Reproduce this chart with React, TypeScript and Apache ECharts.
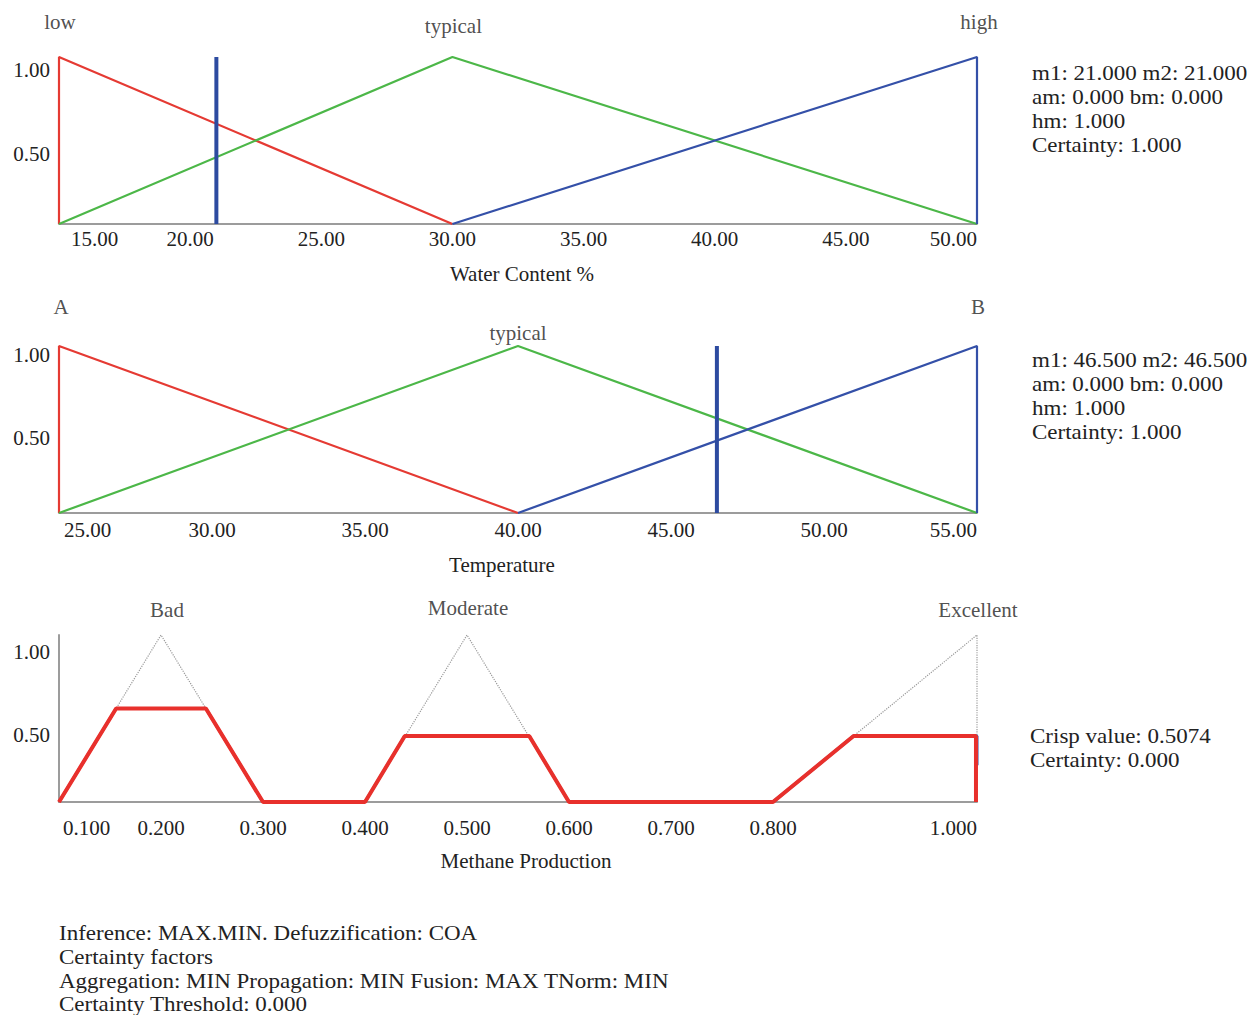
import React, { useEffect, useRef } from "react";
import * as echarts from "echarts";

// ---------- DATA ----------
const yTickValues = [0.5, 1.0];

// Water content chart
const waterMin = 15;
const waterMax = 50;
const waterStep = 5;
const waterLow = [[15, 0], [15, 1], [30, 0]];
const waterTypical = [[15, 0], [30, 1], [50, 0]];
const waterHigh = [[30, 0], [50, 1], [50, 0]];
const waterInput = [[21, 0], [21, 1]];
const waterSetNames = ["low", "typical", "high"];
const waterSetPeaks = [[15, 1], [30, 1], [50, 1]];
const waterInfo = ["m1: 21.000 m2: 21.000", "am: 0.000 bm: 0.000", "hm: 1.000", "Certainty: 1.000"];

// Temperature chart
const tempMin = 25;
const tempMax = 55;
const tempStep = 5;
const tempA = [[25, 0], [25, 1], [40, 0]];
const tempTypical = [[25, 0], [40, 1], [55, 0]];
const tempB = [[40, 0], [55, 1], [55, 0]];
const tempInput = [[46.5, 0], [46.5, 1]];
const tempSetNames = ["A", "typical", "B"];
const tempSetPeaks = [[25, 1], [40, 1], [55, 1]];
const tempInfo = ["m1: 46.500 m2: 46.500", "am: 0.000 bm: 0.000", "hm: 1.000", "Certainty: 1.000"];

// Methane production chart
const methaneMin = 0.1;
const methaneMax = 1.0;
const methaneTicks = [0.1, 0.2, 0.3, 0.4, 0.5, 0.6, 0.7, 0.8, 1.0];
const methaneBad = [[0.1, 0], [0.2, 1], [0.3, 0]];
const methaneModerate = [[0.4, 0], [0.5, 1], [0.6, 0]];
const methaneExcellent = [[0.8, 0], [1.0, 1], [1.0, 0]];
const badClipped = [[0.1, 0], [0.156, 0.56], [0.244, 0.56], [0.3, 0]];
const moderateClipped = [[0.4, 0], [0.439, 0.395], [0.561, 0.395], [0.6, 0]];
const excellentClipped = [[0.8, 0], [0.879, 0.395], [1.0, 0.395], [1.0, 0.22]];
const aggregated = [
  [0.1, 0], [0.156, 0.56], [0.244, 0.56], [0.3, 0], [0.4, 0],
  [0.439, 0.395], [0.561, 0.395], [0.6, 0], [0.8, 0],
  [0.879, 0.395], [0.999, 0.395], [0.999, 0],
];
const methaneSetNames = ["Bad", "Moderate", "Excellent"];
const methaneSetPeaks = [[0.2, 1], [0.5, 1], [1.0, 1]];
const methaneInfo = ["Crisp value: 0.5074", "Certainty: 0.000"];

const footerLines = [
  "Inference: MAX.MIN. Defuzzification: COA",
  "Certainty factors",
  "Aggregation: MIN Propagation: MIN Fusion: MAX TNorm: MIN",
  "Certainty Threshold: 0.000",
];

// ---------- STYLE ----------
const FONT = '"Liberation Serif", "DejaVu Serif", serif';
const TEXT = "#222222";
const RED = "#e53a33";
const GREEN = "#4cb748";
const BLUE = "#3450a8";
const MARK = "#2d4ba0";
const AXIS = "#9c9c9c";
const FS = 21;
const INFO_FS = 20;
const SCALE_X = 1.15;
const SET_WIDTH = 2.2;

const waterLabelDist = [25, 21, 25];
const waterLabelOffX = [1, 1, 2];
const tempLabelDist = [29, 3, 29];
const tempLabelOffX = [2, 0, 1];
const methaneLabelDist = [15, 17, 15];
const methaneLabelOffX = [6, 1, 1];

function makeLine(data: number[][], color: string, width: number, idx: number, dotted = false, z = 2) {
  return {
    type: "line",
    xAxisIndex: idx,
    yAxisIndex: idx,
    data,
    showSymbol: false,
    symbol: "none",
    clip: false,
    z,
    lineStyle: { color, width, type: dotted ? "dotted" : "solid" },
    emphasis: { disabled: true },
  };
}

function makeLabels(names: string[], peaks: number[][], dists: number[], idx: number, offX?: number[]) {
  return {
    type: "scatter",
    xAxisIndex: idx,
    yAxisIndex: idx,
    symbolSize: 0,
    clip: false,
    silent: true,
    data: names.map((n, i) => ({
      name: n,
      value: peaks[i],
      label: { distance: dists[i], offset: [offX ? offX[i] : 0, 0] },
    })),
    label: {
      show: true,
      position: "top",
      formatter: "{b}",
      fontFamily: FONT,
      fontSize: FS,
      color: TEXT,
    },
  };
}

function makeXAxis(idx: number, opts: any) {
  return {
    type: "value",
    gridIndex: idx,
    min: opts.min,
    max: opts.max,
    interval: opts.interval,
    axisLine: { show: true, onZero: false, lineStyle: { color: AXIS, width: 2 } },
    axisTick: { show: false },
    splitLine: { show: false },
    axisLabel: {
      show: true,
      fontFamily: FONT,
      fontSize: FS,
      color: TEXT,
      margin: opts.margin,
      showMinLabel: true,
      showMaxLabel: true,
      alignMinLabel: "left",
      alignMaxLabel: "right",
      hideOverlap: false,
      customValues: opts.customValues,
      formatter: (v: number) => {
        const s = v.toFixed(opts.decimals);
        return Math.abs(v - opts.min) < 1e-9 ? `{first|${s}}` : s;
      },
      rich: {
        first: {
          fontFamily: FONT,
          fontSize: FS,
          color: TEXT,
          padding: [0, 0, 0, opts.firstPad],
        },
      },
    },
    name: opts.name,
    nameLocation: "middle",
    nameGap: opts.nameGap,
    nameTextStyle: {
      fontFamily: FONT,
      fontSize: FS,
      color: TEXT,
      padding: opts.namePadding,
    },
  };
}

function makeYAxis(idx: number, labelLineHeight: number, showLine: boolean) {
  return {
    type: "value",
    gridIndex: idx,
    min: 0,
    max: 1,
    axisLine: { show: showLine, lineStyle: { color: AXIS, width: 2 } },
    axisTick: { show: false },
    splitLine: { show: false },
    axisLabel: {
      show: true,
      customValues: yTickValues,
      fontFamily: FONT,
      fontSize: FS,
      color: TEXT,
      margin: 9,
      verticalAlign: "top",
      lineHeight: labelLineHeight,
      formatter: (v: number) => v.toFixed(2),
    },
  };
}

function infoText(lines: string[], left: number, top: number, lh: number) {
  return {
    type: "text",
    left,
    top,
    scaleX: SCALE_X,
    style: {
      text: lines.join("\n"),
      fontFamily: FONT,
      fontSize: INFO_FS,
      fill: TEXT,
      lineHeight: lh,
    },
  };
}

export default function App() {
  const ref = useRef<HTMLDivElement>(null);
  useEffect(() => {
    document.body.style.margin = "0";
    document.body.style.background = "#ffffff";
    if (!ref.current) return;
    const chart = echarts.init(ref.current, null, { renderer: "svg" });
    const option: any = {
      animation: false,
      backgroundColor: "#ffffff",
      grid: [
        { left: 59, top: 57, width: 918, height: 167 },
        { left: 59, top: 346, width: 918, height: 167 },
        { left: 59, top: 635, width: 918, height: 167 },
      ],
      xAxis: [
        makeXAxis(0, { min: waterMin, max: waterMax, interval: waterStep, margin: 4, decimals: 2, firstPad: 12, name: "Water Content %", nameGap: 39, namePadding: [0, 0, 0, 8] }),
        makeXAxis(1, { min: tempMin, max: tempMax, interval: tempStep, margin: 6, decimals: 2, firstPad: 5, name: "Temperature", nameGap: 41, namePadding: [0, 32, 0, 0] }),
        makeXAxis(2, { min: methaneMin, max: methaneMax, margin: 15, decimals: 3, firstPad: 4, customValues: methaneTicks, name: "Methane Production", nameGap: 48, namePadding: [0, 0, 0, 16] }),
      ],
      yAxis: [makeYAxis(0, 26, false), makeYAxis(1, 17, false), makeYAxis(2, 33, true)],
      series: [
        makeLine(waterLow, RED, SET_WIDTH, 0),
        makeLine(waterTypical, GREEN, SET_WIDTH, 0),
        makeLine(waterHigh, BLUE, SET_WIDTH, 0),
        makeLine(waterInput, MARK, 4, 0, false, 3),
        makeLabels(waterSetNames, waterSetPeaks, waterLabelDist, 0, waterLabelOffX),

        makeLine(tempA, RED, SET_WIDTH, 1),
        makeLine(tempTypical, GREEN, SET_WIDTH, 1),
        makeLine(tempB, BLUE, SET_WIDTH, 1),
        makeLine(tempInput, MARK, 4, 1, false, 3),
        makeLabels(tempSetNames, tempSetPeaks, tempLabelDist, 1, tempLabelOffX),

        makeLine(methaneBad, "#999999", 1.2, 2, true),
        makeLine(methaneModerate, "#999999", 1.2, 2, true),
        makeLine(methaneExcellent, "#999999", 1.2, 2, true),
        makeLine(badClipped, RED, 3, 2, false, 3),
        makeLine(moderateClipped, GREEN, 3, 2, false, 3),
        makeLine(excellentClipped, BLUE, 3, 2, false, 3),
        makeLine(aggregated, "#e8302c", 4, 2, false, 4),
        makeLabels(methaneSetNames, methaneSetPeaks, methaneLabelDist, 2, methaneLabelOffX),
      ],
      graphic: [
        infoText(waterInfo, 1032, 62, 24),
        infoText(tempInfo, 1032, 349, 24),
        infoText(methaneInfo, 1030, 725, 24),
        infoText(footerLines, 59, 922, 23.7),
      ],
    };
    chart.setOption(option);
    return () => chart.dispose();
  }, []);
  return <div ref={ref} style={{ width: 1255, height: 1015 }} />;
}
